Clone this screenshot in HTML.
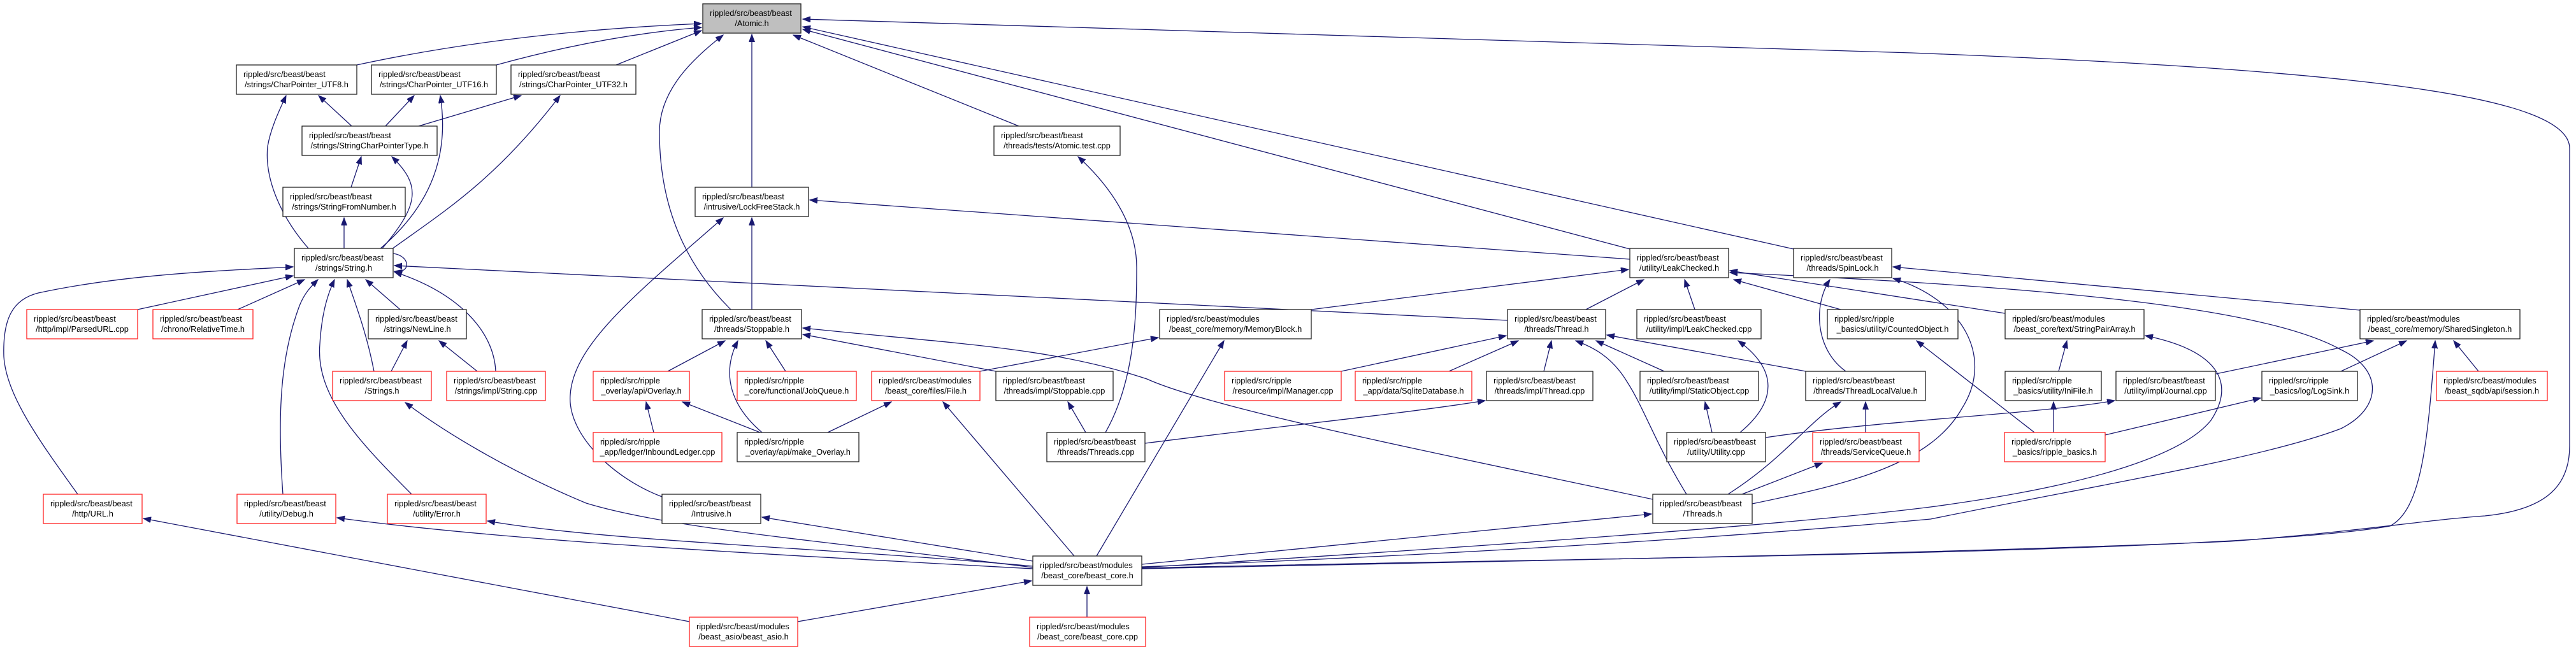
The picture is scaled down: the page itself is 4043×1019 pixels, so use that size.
<!DOCTYPE html>
<html><head><meta charset="utf-8"><style>
html,body{margin:0;padding:0;background:#fff;}
svg{display:block;}
text{font-family:"Liberation Sans",Arial,sans-serif;font-size:12.8px;fill:#000;}
.n{fill:#fff;stroke:#222;stroke-width:1.3;}
.r{fill:#fff;stroke:#f22;stroke-width:1.3;}
.g{fill:#bfbfbf;stroke:#222;stroke-width:1.3;}
.e{fill:none;stroke:#191970;stroke-width:1.3;marker-end:url(#a);}
</style></head><body>
<svg width="4043" height="1019" viewBox="0 0 4043 1019" xmlns="http://www.w3.org/2000/svg">
<defs><marker id="a" markerUnits="userSpaceOnUse" markerWidth="14" markerHeight="10" refX="12" refY="4.5" orient="auto"><polygon points="0,0 12,4.5 0,9" fill="#191970" stroke="#191970" stroke-width="1"/></marker></defs>

<!-- edges -->
<path class="e" d="M560,102 Q800,50 1101,37"/>
<path class="e" d="M779,102 Q950,55 1101,43"/>
<path class="e" d="M967,102 L1101,48"/>
<path class="e" d="M1147,486 C1060,400 1035,300 1035,207 C1035,140 1090,90 1135,55"/>
<path class="e" d="M1180,294 L1180,54"/>
<path class="e" d="M1599,198 L1245,55"/>
<path class="e" d="M2558,391 L1260,46"/>
<path class="e" d="M2815,391 L1260,42"/>
<path class="e" d="M1792,893 C2400,880 3030,870 3500,850 C3700,835 3800,817 3900,810 C4000,800 4033,760 4033,700 L4033,233 C4033,150 3700,110 3000,83 L1260,30"/>
<path class="e" d="M552,198 L500,150"/>
<path class="e" d="M485,391 C440,340 415,280 420,230 C425,200 440,170 449,150"/>
<path class="e" d="M605,198 L650,150"/>
<path class="e" d="M596,391 C680,320 705,240 691,150"/>
<path class="e" d="M657,198 L818,150"/>
<path class="e" d="M615,391 C700,330 780,280 879,150"/>
<path class="e" d="M551,294 L567,246"/>
<path class="e" d="M599,391 C660,320 660,290 615,246"/>
<path class="e" d="M540,390 L540,342"/>
<path class="e" d="M617,398 C645,402 645,430 619,426"/>
<path class="e" d="M2366,503 L619,417"/>
<path class="e" d="M216,486 L460,433"/>
<path class="e" d="M122,776 C60,690 10,620 6,560 C4,500 20,470 60,460 C200,430 350,425 460,419"/>
<path class="e" d="M373,486 L478,439"/>
<path class="e" d="M444,776 C435,650 440,560 470,480 C478,460 488,450 499,439"/>
<path class="e" d="M646,776 C560,690 495,620 502,540 C505,490 515,460 525,439"/>
<path class="e" d="M587,583 C575,520 555,470 545,439"/>
<path class="e" d="M628,486 L574,439"/>
<path class="e" d="M778,583 C775,520 720,460 619,427"/>
<path class="e" d="M614,583 L639,535"/>
<path class="e" d="M749,583 L689,535"/>
<path class="e" d="M2558,407 L1271,314"/>
<path class="e" d="M1180,486 L1180,342"/>
<path class="e" d="M1039,780 C960,750 890,680 895,620 C900,540 1000,460 1135,342"/>
<path class="e" d="M2058,486 L2556,423"/>
<path class="e" d="M2489,486 L2580,439"/>
<path class="e" d="M2660,486 L2644,439"/>
<path class="e" d="M2889,486 L2721,439"/>
<path class="e" d="M3147,492 L2715,425"/>
<path class="e" d="M1792,890 C2300,870 2700,845 3030,815 C3300,760 3550,720 3674,673 C3740,640 3740,580 3674,549 C3550,480 3200,450 2715,428"/>
<path class="e" d="M2897,583 C2850,550 2845,480 2872,439"/>
<path class="e" d="M3704,487 L2971,419"/>
<path class="e" d="M2750,791 C2900,760 3030,730 3080,640 C3130,560 3080,470 2971,437"/>
<path class="e" d="M3478,587 L3725,535"/>
<path class="e" d="M3674,583 L3777,535"/>
<path class="e" d="M3890,583 L3851,535"/>
<path class="e" d="M1792,892 C2500,875 3500,870 3751,826 C3800,800 3810,700 3822,535"/>
<path class="e" d="M1792,891 C2300,860 2800,825 3030,796 C3300,760 3430,710 3470,660 C3510,600 3480,550 3367,527"/>
<path class="e" d="M3231,583 L3244,535"/>
<path class="e" d="M3223,679 L3223,631"/>
<path class="e" d="M2771,687 C2950,660 3200,650 3319,629"/>
<path class="e" d="M3304,683 L3548,625"/>
<path class="e" d="M3193,679 L3008,535"/>
<path class="e" d="M2105,583 L2364,527"/>
<path class="e" d="M2274,583 L2383,535"/>
<path class="e" d="M2423,583 L2435,535"/>
<path class="e" d="M2647,776 C2600,700 2580,640 2554,600 C2530,560 2500,545 2473,535"/>
<path class="e" d="M2612,583 L2505,535"/>
<path class="e" d="M2834,583 L2522,526"/>
<path class="e" d="M2731,679 C2790,630 2790,580 2728,535"/>
<path class="e" d="M2687,679 L2676,631"/>
<path class="e" d="M2712,776 C2800,720 2840,660 2889,631"/>
<path class="e" d="M2928,679 L2928,631"/>
<path class="e" d="M2734,776 L2860,727"/>
<path class="e" d="M1792,886 L2592,807"/>
<path class="e" d="M2594,784 C2200,700 1900,640 1800,595 C1650,545 1500,540 1260,515"/>
<path class="e" d="M1797,696 C2000,670 2200,650 2331,629"/>
<path class="e" d="M1704,679 L1676,631"/>
<path class="e" d="M1735,679 C1780,600 1784,500 1784,420 C1784,350 1740,290 1692,246"/>
<path class="e" d="M1721,873 L1921,535"/>
<path class="e" d="M1538,583 L1818,530"/>
<path class="e" d="M1048,583 L1138,535"/>
<path class="e" d="M1196,679 C1150,640 1130,590 1158,535"/>
<path class="e" d="M1233,583 L1202,535"/>
<path class="e" d="M1563,583 L1260,525"/>
<path class="e" d="M1026,679 L1014,631"/>
<path class="e" d="M1193,679 L1071,631"/>
<path class="e" d="M1299,679 L1399,631"/>
<path class="e" d="M1686,873 L1480,631"/>
<path class="e" d="M1621,881 L1196,812"/>
<path class="e" d="M1621,891 C1300,850 1050,830 920,790 C800,740 700,680 636,632"/>
<path class="e" d="M1621,893 C1200,870 800,850 529,813"/>
<path class="e" d="M1621,889 C1300,860 950,850 765,818"/>
<path class="e" d="M1082,976 L225,814"/>
<path class="e" d="M1252,976 L1619,912"/>
<path class="e" d="M1706,969 L1706,921"/>

<!-- nodes -->
<rect class="g" x="1103" y="6" width="154" height="46"/><text x="1114" y="25">rippled/src/beast/beast</text><text x="1180" y="41" text-anchor="middle">/Atomic.h</text>

<rect class="n" x="371" y="102" width="189" height="46"/><text x="382" y="121">rippled/src/beast/beast</text><text x="465.5" y="137" text-anchor="middle">/strings/CharPointer_UTF8.h</text>
<rect class="n" x="583" y="102" width="196" height="46"/><text x="594" y="121">rippled/src/beast/beast</text><text x="681" y="137" text-anchor="middle">/strings/CharPointer_UTF16.h</text>
<rect class="n" x="802" y="102" width="196" height="46"/><text x="813" y="121">rippled/src/beast/beast</text><text x="900" y="137" text-anchor="middle">/strings/CharPointer_UTF32.h</text>

<rect class="n" x="474" y="198" width="212" height="46"/><text x="485" y="217">rippled/src/beast/beast</text><text x="580" y="233" text-anchor="middle">/strings/StringCharPointerType.h</text>
<rect class="n" x="1560" y="198" width="198" height="46"/><text x="1571" y="217">rippled/src/beast/beast</text><text x="1659" y="233" text-anchor="middle">/threads/tests/Atomic.test.cpp</text>

<rect class="n" x="444" y="294" width="192" height="46"/><text x="455" y="313">rippled/src/beast/beast</text><text x="540" y="329" text-anchor="middle">/strings/StringFromNumber.h</text>
<rect class="n" x="1091" y="294" width="178" height="46"/><text x="1102" y="313">rippled/src/beast/beast</text><text x="1180" y="329" text-anchor="middle">/intrusive/LockFreeStack.h</text>

<rect class="n" x="462" y="390" width="155" height="46"/><text x="473" y="409">rippled/src/beast/beast</text><text x="539.5" y="425" text-anchor="middle">/strings/String.h</text>
<rect class="n" x="2558" y="390" width="155" height="46"/><text x="2569" y="409">rippled/src/beast/beast</text><text x="2635.5" y="425" text-anchor="middle">/utility/LeakChecked.h</text>
<rect class="n" x="2815" y="390" width="154" height="46"/><text x="2826" y="409">rippled/src/beast/beast</text><text x="2892" y="425" text-anchor="middle">/threads/SpinLock.h</text>

<rect class="r" x="42" y="486" width="174" height="46"/><text x="53" y="505">rippled/src/beast/beast</text><text x="129" y="521" text-anchor="middle">/http/impl/ParsedURL.cpp</text>
<rect class="r" x="240" y="486" width="157" height="46"/><text x="251" y="505">rippled/src/beast/beast</text><text x="318.5" y="521" text-anchor="middle">/chrono/RelativeTime.h</text>
<rect class="n" x="578" y="486" width="154" height="46"/><text x="589" y="505">rippled/src/beast/beast</text><text x="655" y="521" text-anchor="middle">/strings/NewLine.h</text>
<rect class="n" x="1102" y="486" width="156" height="46"/><text x="1113" y="505">rippled/src/beast/beast</text><text x="1180" y="521" text-anchor="middle">/threads/Stoppable.h</text>
<rect class="n" x="1820" y="486" width="238" height="46"/><text x="1831" y="505">rippled/src/beast/modules</text><text x="1939" y="521" text-anchor="middle">/beast_core/memory/MemoryBlock.h</text>
<rect class="n" x="2366" y="486" width="154" height="46"/><text x="2377" y="505">rippled/src/beast/beast</text><text x="2443" y="521" text-anchor="middle">/threads/Thread.h</text>
<rect class="n" x="2569" y="486" width="195" height="46"/><text x="2580" y="505">rippled/src/beast/beast</text><text x="2666.5" y="521" text-anchor="middle">/utility/impl/LeakChecked.cpp</text>
<rect class="n" x="2868" y="486" width="205" height="46"/><text x="2879" y="505">rippled/src/ripple</text><text x="2970.5" y="521" text-anchor="middle">_basics/utility/CountedObject.h</text>
<rect class="n" x="3147" y="486" width="218" height="46"/><text x="3158" y="505">rippled/src/beast/modules</text><text x="3256" y="521" text-anchor="middle">/beast_core/text/StringPairArray.h</text>
<rect class="n" x="3704" y="486" width="251" height="46"/><text x="3715" y="505">rippled/src/beast/modules</text><text x="3829.5" y="521" text-anchor="middle">/beast_core/memory/SharedSingleton.h</text>

<rect class="r" x="522" y="583" width="155" height="46"/><text x="533" y="602">rippled/src/beast/beast</text><text x="599.5" y="618" text-anchor="middle">/Strings.h</text>
<rect class="r" x="701" y="583" width="155" height="46"/><text x="712" y="602">rippled/src/beast/beast</text><text x="778.5" y="618" text-anchor="middle">/strings/impl/String.cpp</text>
<rect class="r" x="931" y="583" width="151" height="46"/><text x="942" y="602">rippled/src/ripple</text><text x="1006.5" y="618" text-anchor="middle">_overlay/api/Overlay.h</text>
<rect class="r" x="1157" y="583" width="187" height="46"/><text x="1168" y="602">rippled/src/ripple</text><text x="1250.5" y="618" text-anchor="middle">_core/functional/JobQueue.h</text>
<rect class="r" x="1368" y="583" width="170" height="46"/><text x="1379" y="602">rippled/src/beast/modules</text><text x="1453" y="618" text-anchor="middle">/beast_core/files/File.h</text>
<rect class="n" x="1563" y="583" width="184" height="46"/><text x="1574" y="602">rippled/src/beast/beast</text><text x="1655" y="618" text-anchor="middle">/threads/impl/Stoppable.cpp</text>
<rect class="r" x="1922" y="583" width="183" height="46"/><text x="1933" y="602">rippled/src/ripple</text><text x="2013.5" y="618" text-anchor="middle">/resource/impl/Manager.cpp</text>
<rect class="r" x="2127" y="583" width="183" height="46"/><text x="2138" y="602">rippled/src/ripple</text><text x="2218.5" y="618" text-anchor="middle">_app/data/SqliteDatabase.h</text>
<rect class="n" x="2333" y="583" width="167" height="46"/><text x="2344" y="602">rippled/src/beast/beast</text><text x="2416.5" y="618" text-anchor="middle">/threads/impl/Thread.cpp</text>
<rect class="n" x="2574" y="583" width="186" height="46"/><text x="2585" y="602">rippled/src/beast/beast</text><text x="2667" y="618" text-anchor="middle">/utility/impl/StaticObject.cpp</text>
<rect class="n" x="2834" y="583" width="188" height="46"/><text x="2845" y="602">rippled/src/beast/beast</text><text x="2928" y="618" text-anchor="middle">/threads/ThreadLocalValue.h</text>
<rect class="n" x="3147" y="583" width="151" height="46"/><text x="3158" y="602">rippled/src/ripple</text><text x="3222.5" y="618" text-anchor="middle">_basics/utility/IniFile.h</text>
<rect class="n" x="3321" y="583" width="156" height="46"/><text x="3332" y="602">rippled/src/beast/beast</text><text x="3399" y="618" text-anchor="middle">/utility/impl/Journal.cpp</text>
<rect class="n" x="3550" y="583" width="150" height="46"/><text x="3561" y="602">rippled/src/ripple</text><text x="3625" y="618" text-anchor="middle">_basics/log/LogSink.h</text>
<rect class="r" x="3824" y="583" width="174" height="46"/><text x="3835" y="602">rippled/src/beast/modules</text><text x="3911" y="618" text-anchor="middle">/beast_sqdb/api/session.h</text>

<rect class="r" x="931" y="679" width="202" height="46"/><text x="942" y="698">rippled/src/ripple</text><text x="1032" y="714" text-anchor="middle">_app/ledger/InboundLedger.cpp</text>
<rect class="n" x="1157" y="679" width="191" height="46"/><text x="1168" y="698">rippled/src/ripple</text><text x="1252.5" y="714" text-anchor="middle">_overlay/api/make_Overlay.h</text>
<rect class="n" x="1643" y="679" width="154" height="46"/><text x="1654" y="698">rippled/src/beast/beast</text><text x="1720" y="714" text-anchor="middle">/threads/Threads.cpp</text>
<rect class="n" x="2616" y="679" width="155" height="46"/><text x="2627" y="698">rippled/src/beast/beast</text><text x="2693.5" y="714" text-anchor="middle">/utility/Utility.cpp</text>
<rect class="r" x="2845" y="679" width="167" height="46"/><text x="2856" y="698">rippled/src/beast/beast</text><text x="2928.5" y="714" text-anchor="middle">/threads/ServiceQueue.h</text>
<rect class="r" x="3146" y="679" width="158" height="46"/><text x="3157" y="698">rippled/src/ripple</text><text x="3225" y="714" text-anchor="middle">_basics/ripple_basics.h</text>

<rect class="r" x="68" y="776" width="155" height="46"/><text x="79" y="795">rippled/src/beast/beast</text><text x="145.5" y="811" text-anchor="middle">/http/URL.h</text>
<rect class="r" x="372" y="776" width="155" height="46"/><text x="383" y="795">rippled/src/beast/beast</text><text x="449.5" y="811" text-anchor="middle">/utility/Debug.h</text>
<rect class="r" x="608" y="776" width="155" height="46"/><text x="619" y="795">rippled/src/beast/beast</text><text x="685.5" y="811" text-anchor="middle">/utility/Error.h</text>
<rect class="n" x="1039" y="776" width="155" height="46"/><text x="1050" y="795">rippled/src/beast/beast</text><text x="1116.5" y="811" text-anchor="middle">/Intrusive.h</text>
<rect class="n" x="2594" y="776" width="156" height="46"/><text x="2605" y="795">rippled/src/beast/beast</text><text x="2672" y="811" text-anchor="middle">/Threads.h</text>

<rect class="n" x="1621" y="873" width="171" height="46"/><text x="1632" y="892">rippled/src/beast/modules</text><text x="1706.5" y="908" text-anchor="middle">/beast_core/beast_core.h</text>

<rect class="r" x="1082" y="969" width="170" height="46"/><text x="1093" y="988">rippled/src/beast/modules</text><text x="1167" y="1004" text-anchor="middle">/beast_asio/beast_asio.h</text>
<rect class="r" x="1616" y="969" width="182" height="46"/><text x="1627" y="988">rippled/src/beast/modules</text><text x="1707" y="1004" text-anchor="middle">/beast_core/beast_core.cpp</text>
</svg>
</body></html>
